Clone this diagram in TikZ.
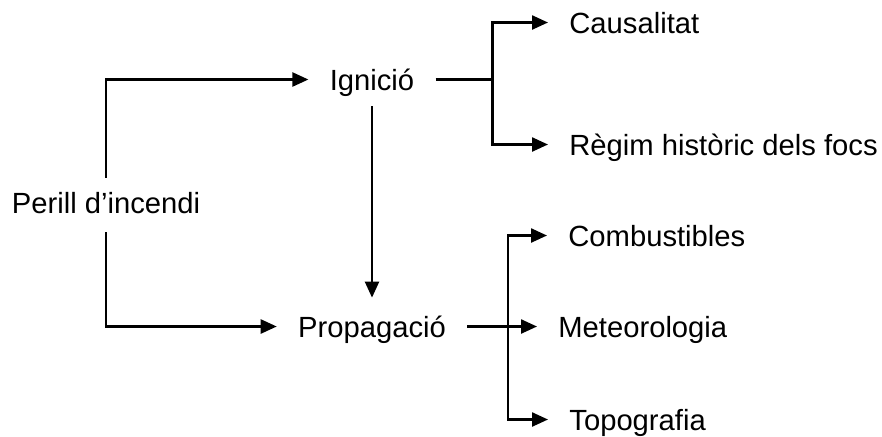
\documentclass[tikz,border=0pt]{standalone}
\usepackage{fontspec}
\setmainfont{Liberation Sans}
\usepackage{tikz}
\usetikzlibrary{arrows.meta, positioning, calc}
\tikzset{
  % Text styles
  termnode/.style={inner xsep=10.5pt, inner ysep=0pt, text height=10.5pt, text depth=0pt, font=\fontsize{14.6}{17}\selectfont},
  % Line styles
  arrow/.style={-{Triangle[length=8pt, width=7pt]}, line width=1.2pt, black},
  plainline/.style={line width=1.2pt, black}
}

\begin{document}
\begin{tikzpicture}[x=0.5pt, y=-0.5pt]
  \useasboundingbox (0,0) rectangle (882,436);

  % Terms
  \node[termnode, anchor=base] (perill) at (106,213) {Perill d'incendi};
  \node[termnode, anchor=base] (ignicio) at (372,90) {Ignició};
  \node[termnode, anchor=base] (propag) at (372,337) {Propagació};

  \node[termnode, anchor=base west] (causal) at (548,33) {Causalitat};
  \node[termnode, anchor=base west] (regim) at (548,155) {Règim històric dels focs};

  \node[termnode, anchor=base west] (combust) at (547,246) {Combustibles};
  \node[termnode, anchor=base west] (meteo) at (537,337) {Meteorologia};
  \node[termnode, anchor=base west] (topo) at (548,430) {Topografia};

  % Branch points
  \coordinate (igsplit) at ([xshift=28.5pt]ignicio.east);
  \coordinate (prsplit) at ([xshift=20.5pt]propag.east);

  % Connectors
  \draw[arrow, shorten <=7pt] (perill.north) |- (ignicio.west);
  \draw[arrow, shorten <=9.5pt] (perill.south) |- (propag.west);
  \draw[arrow, shorten <=8pt, shorten >=9pt] (ignicio.south) -- (propag.north);

  \draw[plainline] (ignicio.east) -- (igsplit);
  \draw[arrow] (igsplit) |- (causal.west);
  \draw[arrow] (igsplit) |- (regim.west);

  \draw[arrow] (propag.east) -- (meteo.west);
  \draw[arrow] (prsplit) |- (combust.west);
  \draw[arrow] (prsplit) |- (topo.west);
\end{tikzpicture}
\end{document}
